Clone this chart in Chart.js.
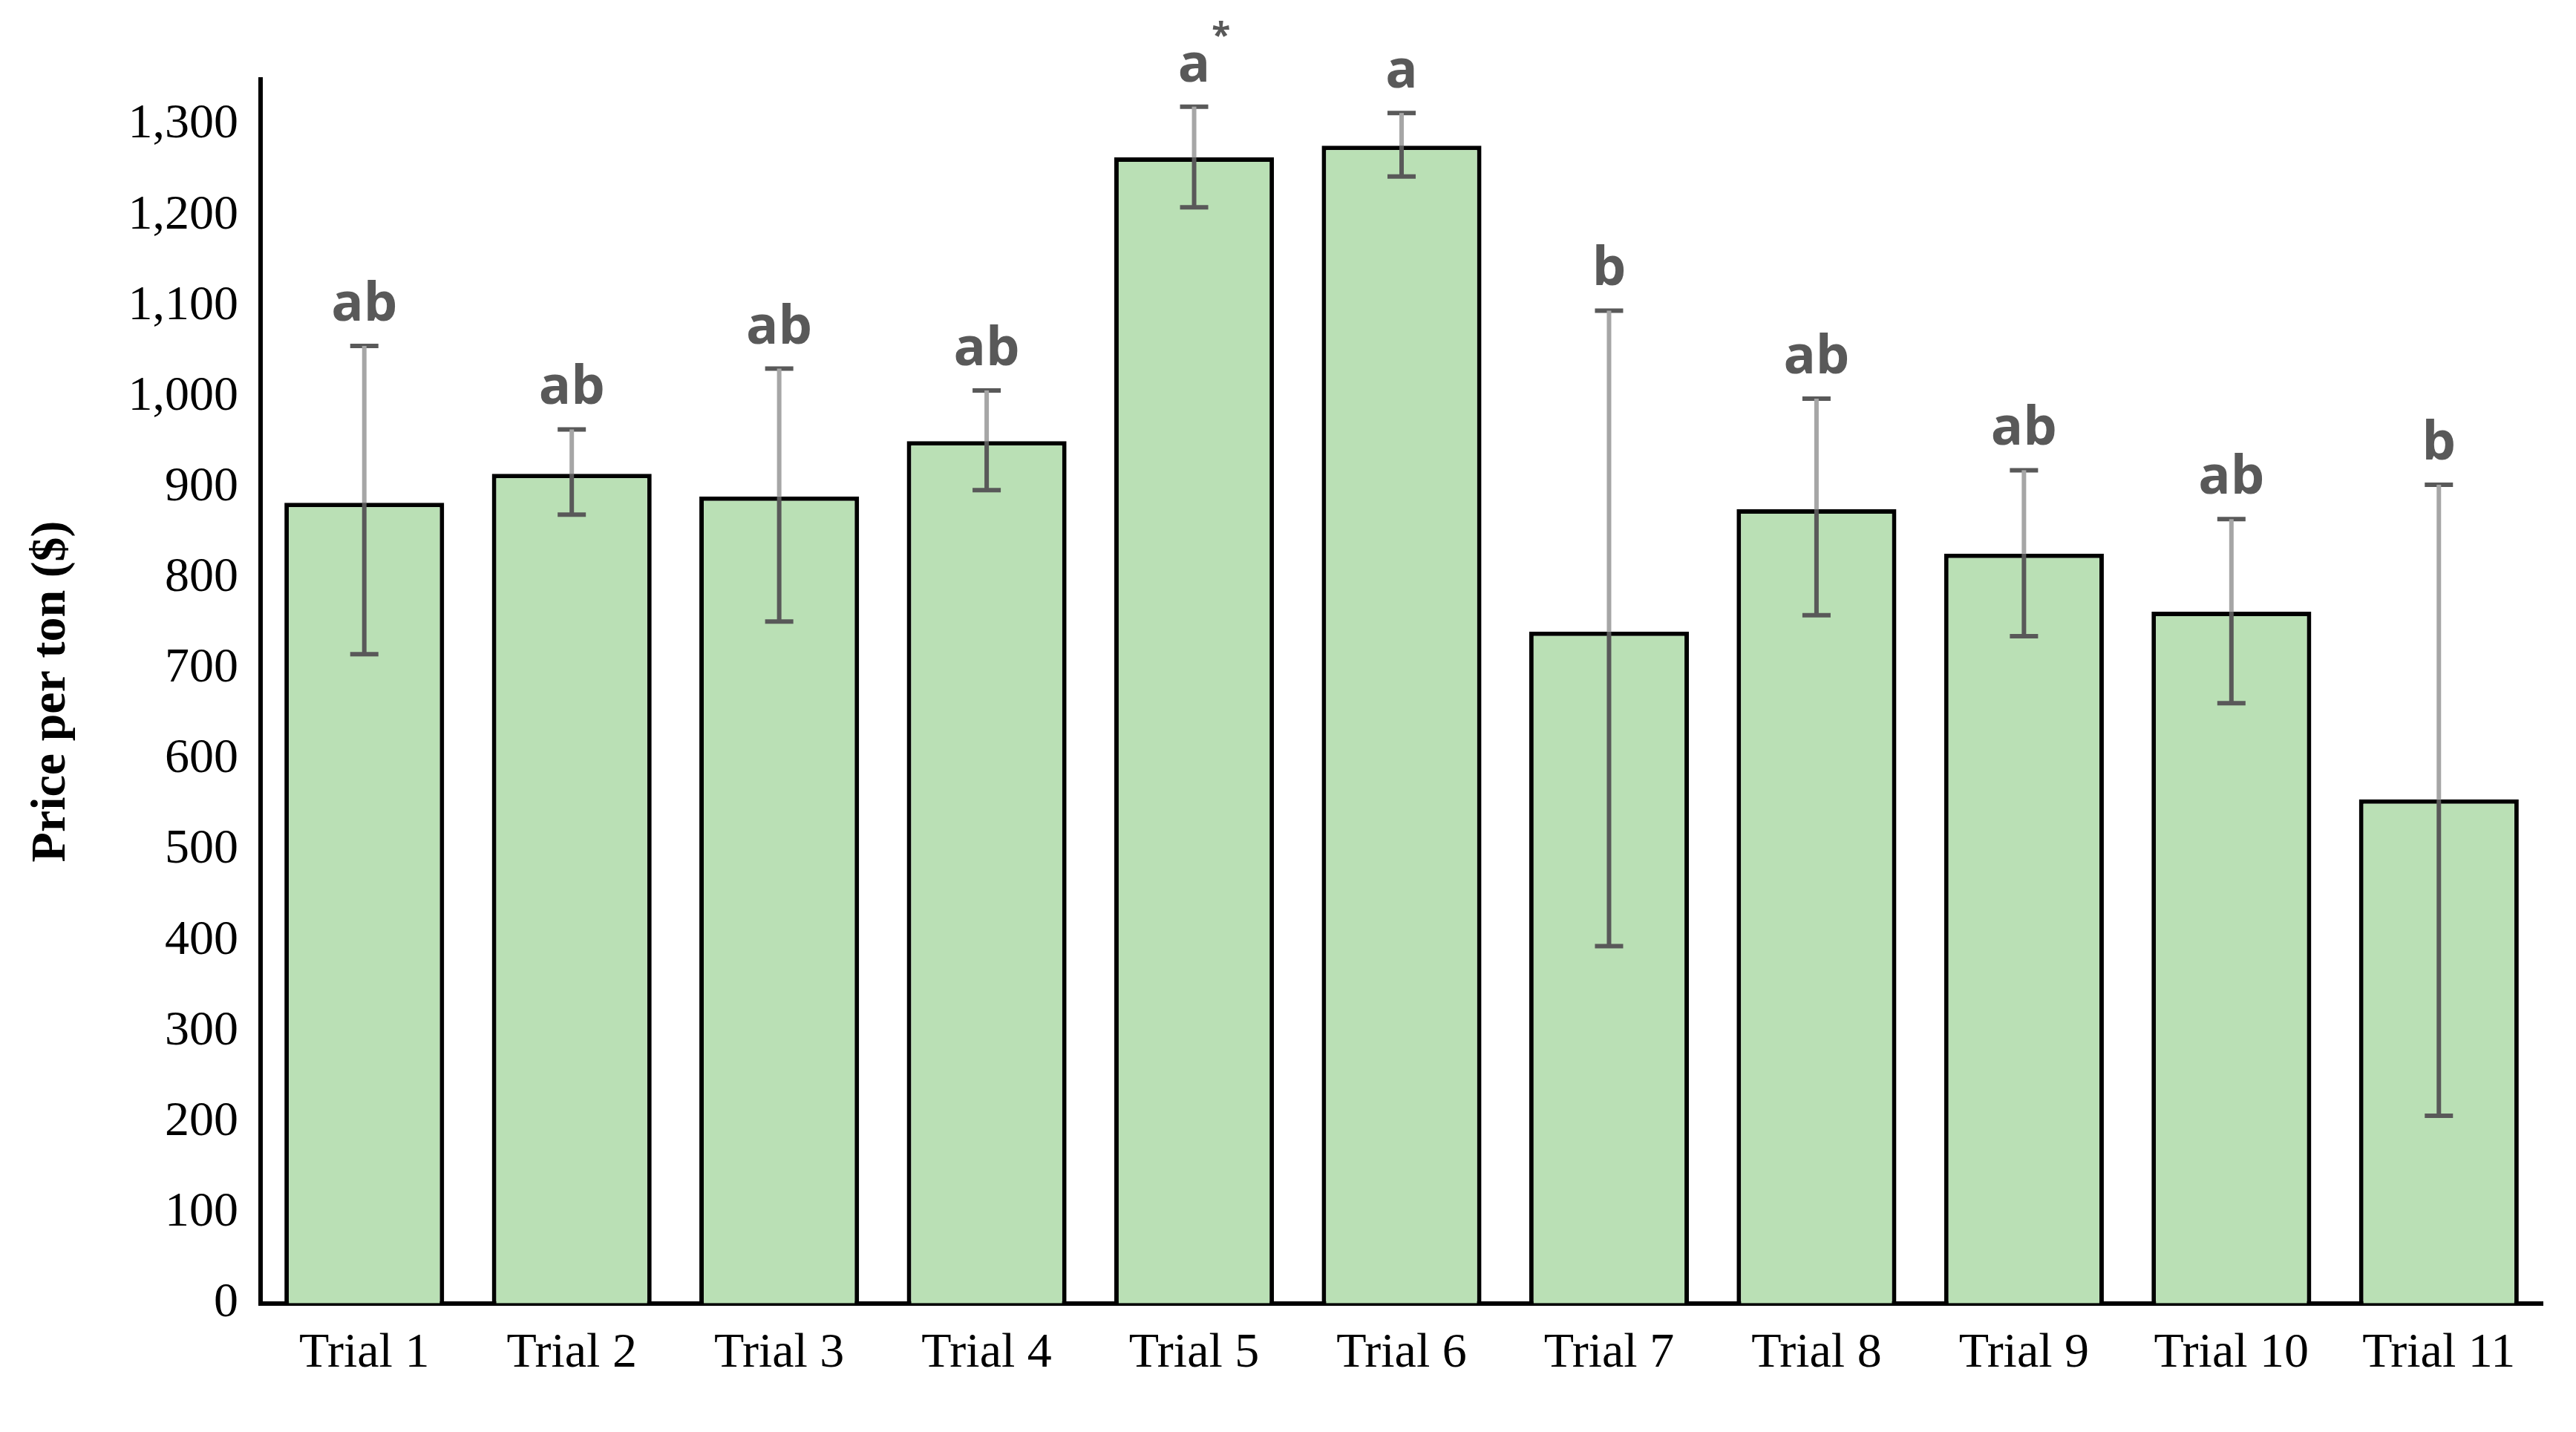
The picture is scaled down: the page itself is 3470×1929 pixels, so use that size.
<head>
<script src="https://cdn.jsdelivr.net/npm/chart.js"></script>
<style>body{margin:0;background:#fff}</style>
</head>
<body>
<canvas id="chart" width="3470" height="1929"></canvas>
<script>
const trials = ['Trial 1','Trial 2','Trial 3','Trial 4','Trial 5','Trial 6','Trial 7','Trial 8','Trial 9','Trial 10','Trial 11'];
const price = [883, 915, 890, 951, 1264, 1277, 741, 876, 827, 763, 556];
const errHigh = [1056, 964, 1031, 1007, 1320, 1313, 1095, 998, 919, 865, 903];
const errLow = [716, 870, 752, 897, 1209, 1243, 394, 759, 736, 662, 207];
const letters = ['ab','ab','ab','ab','a*','a','b','ab','ab','ab','b'];
const yTicks = [0,100,200,300,400,500,600,700,800,900,1000,1100,1200,1300];

// error bars + significance letters
const extras = {
  id: 'extras',
  afterDatasetsDraw(chart) {
    const c = chart.ctx, y = chart.scales.y;
    const bars = chart.getDatasetMeta(0).data;
    c.save();
    bars.forEach((b, i) => {
      const x = b.x, yt = y.getPixelForValue(price[i]);
      const yh = y.getPixelForValue(errHigh[i]), yl = y.getPixelForValue(errLow[i]);
      c.lineWidth = 6;
      c.strokeStyle = '#595959';
      c.beginPath(); c.moveTo(x, yt); c.lineTo(x, yl); c.stroke();
      c.beginPath(); c.moveTo(x - 19, yh); c.lineTo(x + 19, yh);
      c.moveTo(x - 19, yl); c.lineTo(x + 19, yl); c.stroke();
      c.strokeStyle = '#a6a6a6';
      c.beginPath(); c.moveTo(x, yt); c.lineTo(x, yh); c.stroke();
      // letters
      const s = letters[i].replace('*', '');
      c.fillStyle = '#595959';
      c.font = 'bold 72px "Open Sans", sans-serif';
      c.textAlign = 'center';
      c.textBaseline = 'alphabetic';
      c.fillText(s, x, yh - 34);
      if (letters[i].endsWith('*')) {
        const w = c.measureText(s).width;
        c.font = 'bold 46px "Open Sans", sans-serif';
        c.textAlign = 'left';
        c.fillText('*', x + w / 2 + 2, yh - 80);
      }
    });
    c.restore();
  }
};

new Chart(document.getElementById('chart'), {
  type: 'bar',
  data: {
    labels: trials,
    datasets: [{
      data: price,
      backgroundColor: '#bae0b5',
      borderColor: '#000',
      borderWidth: 6,
      barPercentage: 0.77,
      categoryPercentage: 1
    }]
  },
  options: {
    responsive: false,
    animation: false,
    layout: { padding: { top: 107, right: 45, bottom: 38, left: 30 } },
    plugins: { legend: { display: false }, tooltip: { enabled: false } },
    scales: {
      x: {
        grid: { display: false, drawTicks: false },
        border: { color: '#000', width: 6 },
        ticks: { color: '#000', font: { family: 'Liberation Serif', size: 66 }, padding: 28, maxRotation: 0 }
      },
      y: {
        min: 0, max: 1350,
        grid: { display: false, drawTicks: false },
        border: { color: '#000', width: 6 },
        afterFit: s => { s.width = 321; },
        afterBuildTicks: s => { s.ticks = yTicks.map(v => ({ value: v })); },
        ticks: {
          color: '#000', padding: 30,
          font: { family: 'Liberation Serif', size: 66 }
        },
        title: { display: true, text: 'Price per ton ($)', color: '#000', padding: 0,
          font: { family: 'Liberation Serif', size: 66, weight: 'bold' } }
      }
    }
  },
  plugins: [extras]
});
</script>
</body>
